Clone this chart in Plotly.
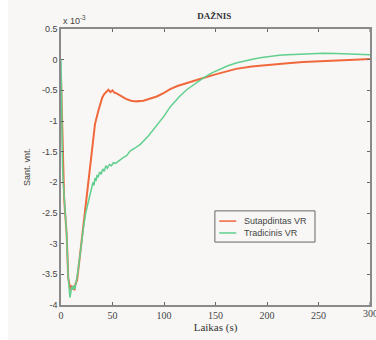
import plotly.graph_objects as go

# Frequency deviation response (values in units of 1e-3)
t_sutapdintas = [0, 0.5, 1, 1.7, 2.3, 3, 4, 5.5, 7, 8, 9, 10, 11, 12, 13, 14, 15.5, 17,
                 18.4, 20, 22, 25, 28, 30, 33, 36, 40, 42, 44, 46, 47, 48, 50, 52, 54,
                 58, 63, 68, 73, 80, 87, 93, 100, 106, 113, 122, 130, 138, 150, 160,
                 170, 185, 203, 220, 235, 250, 268, 285, 300]
v_sutapdintas = [-0.27, -0.6, -1.0, -1.75, -2.1, -2.25, -2.5, -2.85, -3.55, -3.7, -3.75,
                 -3.68, -3.74, -3.7, -3.76, -3.66, -3.6, -3.4, -3.2, -2.94, -2.65, -2.2,
                 -1.75, -1.47, -1.05, -0.85, -0.62, -0.56, -0.52, -0.49, -0.51, -0.53,
                 -0.5, -0.54, -0.55, -0.59, -0.64, -0.67, -0.68, -0.67, -0.63, -0.6,
                 -0.54, -0.48, -0.43, -0.38, -0.34, -0.3, -0.24, -0.19, -0.15, -0.11,
                 -0.08, -0.06, -0.04, -0.025, -0.01, 0.0, 0.01]

t_tradicinis = [0, 0.5, 1, 1.5, 2, 3, 4, 5.5, 7, 8, 8.7, 9.5, 10.5, 11.5, 12.5, 13.5,
                14.5, 16, 18.4, 20, 21.7, 24, 26.5, 28, 30, 31, 32, 33, 34, 35, 36,
                37.5, 39, 40.5, 42, 43.5, 45, 47, 49, 51, 53, 56, 60, 64, 67, 72, 77,
                85, 93, 100, 106, 115, 122, 130, 138, 146, 154, 162, 170, 178, 187,
                195, 203, 212, 220, 230, 242, 255, 267, 275, 284, 300]
v_tradicinis = [0.0, -0.8, -1.5, -1.75, -1.95, -2.2, -2.5, -2.85, -3.55, -3.8, -3.88,
                -3.8, -3.7, -3.75, -3.68, -3.74, -3.65, -3.5, -3.2, -2.95, -2.75, -2.5,
                -2.32, -2.22, -2.08, -2.0, -2.05, -1.93, -1.98, -1.88, -1.92, -1.83,
                -1.87, -1.78, -1.82, -1.73, -1.77, -1.71, -1.73, -1.68, -1.69, -1.65,
                -1.6, -1.56, -1.49, -1.44, -1.38, -1.24, -1.07, -0.92, -0.77, -0.6,
                -0.49, -0.39, -0.3, -0.22, -0.16, -0.1, -0.055, -0.02, 0.01, 0.035,
                0.055, 0.07, 0.08, 0.09, 0.1, 0.103, 0.1, 0.095, 0.088, 0.08]

x_ticks = [0, 50, 100, 150, 200, 250, 300]
x_tick_text = ["0", "50", "100", "150", "200", "250", "300"]
y_ticks = [0.5, 0, -0.5, -1, -1.5, -2, -2.5, -3, -3.5, -4]
y_tick_text = ["0.5", "0", "-0.5", "-1", "-1.5", "-2", "-2.5", "-3", "-3.5", "-4"]

series_names = ["Sutapdintas VR", "Tradicinis VR"]
series_colors = ["#f0683c", "#62cf8f"]
series_widths = [2, 1.5]

BG = "#f8f7f5"
XTICK_FONT = dict(family="Liberation Serif", size=10, color="#444")

fig = go.Figure()
for t, v, name, color, width in zip([t_sutapdintas, t_tradicinis],
                                    [v_sutapdintas, v_tradicinis],
                                    series_names, series_colors, series_widths):
    fig.add_trace(go.Scatter(x=t, y=v, mode="lines", name=name, showlegend=False,
                             line=dict(color=color, width=width)))

axis_common = dict(showline=True, linecolor="#8a8a8a", linewidth=1.5, mirror="ticks",
                   ticks="inside", ticklen=3, tickcolor="#666", showgrid=False,
                   zeroline=False, automargin=False)

# The last x label sits at the page edge, so it is placed as an annotation
# (and clipped by the page) instead of being dropped by the axis.
fig.update_xaxes(range=[0, 300], tickvals=x_ticks[:-1], ticktext=x_tick_text[:-1],
                 tickfont=XTICK_FONT,
                 title=dict(text="Laikas (s)", standoff=4,
                            font=dict(family="Liberation Serif", size=11, color="#333")),
                 **axis_common)
fig.update_yaxes(range=[-4, 0.5], tickvals=y_ticks, ticktext=y_tick_text,
                 tickfont=dict(family="Liberation Sans", size=9, color="#444"),
                 title=dict(text="Sant. vnt.", standoff=10,
                            font=dict(family="Liberation Sans", size=9, color="#444")),
                 **axis_common)

# Boxed legend drawn in paper coordinates
leg_x0, leg_x1, leg_y0, leg_y1 = 0.498, 0.822, 0.228, 0.341
entry_y = [0.304, 0.261]
shapes = [
    dict(type="rect", xref="paper", yref="paper", x0=-0.2, x1=-0.1718, y0=-0.2,
         y1=1.2, fillcolor="white", line=dict(width=0), layer="below"),
    dict(type="rect", xref="paper", yref="paper", x0=leg_x0, x1=leg_x1, y0=leg_y0,
         y1=leg_y1, fillcolor=BG, line=dict(color="#666", width=1)),
    # inside tick marks at the right end of both horizontal axis lines
    dict(type="line", xref="x", yref="paper", x0=x_ticks[-1], x1=x_ticks[-1],
         y0=0, y1=0.011, line=dict(color="#666", width=1)),
    dict(type="line", xref="x", yref="paper", x0=x_ticks[-1], x1=x_ticks[-1],
         y0=0.989, y1=1, line=dict(color="#666", width=1)),
]
annotations = [
    dict(text="x 10<sup>-3</sup>", x=0, y=1.0, xref="paper", yref="paper",
         xanchor="left", yanchor="bottom", showarrow=False, yshift=1,
         font=dict(family="Liberation Sans", size=9, color="#444")),
    dict(text=x_tick_text[-1], x=x_ticks[-1], y=0, xref="x", yref="paper",
         xanchor="center", yanchor="top", showarrow=False, yshift=-1,
         font=XTICK_FONT),
]
for name, color, ey in zip(series_names, series_colors, entry_y):
    shapes.append(dict(type="line", xref="paper", yref="paper", x0=0.512, x1=0.567,
                       y0=ey, y1=ey, line=dict(color=color, width=1.5)))
    annotations.append(dict(text=name, x=0.586, y=ey, xref="paper", yref="paper",
                            xanchor="left", yanchor="middle", showarrow=False,
                            font=dict(family="Liberation Sans", size=9, color="#444")))

fig.update_layout(
    width=376, height=340,
    margin=dict(l=61, r=6, t=29, b=35),
    paper_bgcolor=BG, plot_bgcolor=BG,
    title=dict(text="<b>DAŽNIS</b>", x=0.57, xanchor="center", y=0.953, yanchor="middle",
               font=dict(family="Liberation Serif", size=9, color="#333")),
    showlegend=False,
    annotations=annotations,
    shapes=shapes,
)

fig.write_html("out.html")
